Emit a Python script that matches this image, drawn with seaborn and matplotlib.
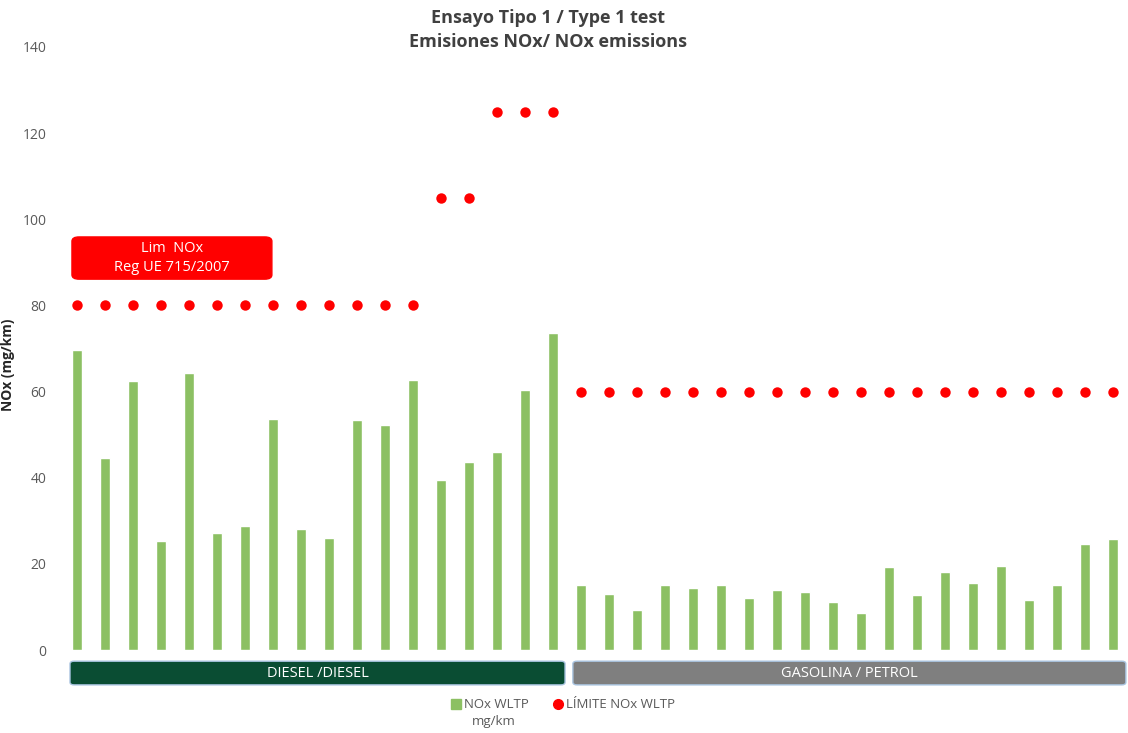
import numpy as np
import pandas as pd
import matplotlib.pyplot as plt
from matplotlib.patches import FancyBboxPatch
from matplotlib.lines import Line2D
import seaborn as sns

# data
diesel_nox = [69.7, 44.5, 62.4, 25.3, 64.2, 27.1, 28.8, 53.6, 28.2, 25.9,
              53.3, 52.2, 62.8, 39.4, 43.7, 45.9, 60.4, 73.5]
diesel_limit = [80] * 13 + [105] * 2 + [125] * 3
petrol_nox = [15.0, 13.1, 9.4, 15.2, 14.3, 15.0, 12.0, 13.9, 13.4, 11.1,
              8.5, 19.3, 12.8, 18.2, 15.5, 19.4, 11.7, 15.2, 24.7, 25.8]
petrol_limit = [60] * 20
fuel_labels = ['DIESEL /DIESEL', 'GASOLINA / PETROL']

vehicles = [f'D{i + 1}' for i in range(len(diesel_nox))] + \
           [f'G{i + 1}' for i in range(len(petrol_nox))]
df = pd.DataFrame({
    'vehiculo': vehicles,
    'nox': diesel_nox + petrol_nox,
    'limite': diesel_limit + petrol_limit,
})

sns.set_style('white')
plt.rcParams['font.family'] = ['Open Sans', 'DejaVu Sans']

fig = plt.figure(figsize=(11.28, 7.33), dpi=100)
ax = fig.add_axes([63 / 1128, 83 / 733, 1065 / 1128, 603 / 733])

sns.barplot(data=df, x='vehiculo', y='nox', order=vehicles, color='#8cc063',
            width=0.36, saturation=1, ax=ax)
sns.stripplot(data=df, x='vehiculo', y='limite', order=vehicles, color='#ff0000',
              jitter=False, size=7.5, linewidth=0, ax=ax)

ax.set_ylim(0, 140)
ax.set_xlim(-0.5, len(vehicles) - 1 + 15 / 28)
ax.set_yticks(range(0, 141, 20))
ax.tick_params(axis='y', labelsize=10, labelcolor='#595959', length=0, pad=12)
ax.set_xticks([])
ax.set_xlabel('')
ax.set_ylabel('NOx (mg/km)', fontsize=10, fontweight='bold', color='#262626')
ax.yaxis.set_label_coords(-0.045, 0.473)
sns.despine(ax=ax, left=True, bottom=True)

# fuel type bands under the bars
nd = len(diesel_nox)
bands = [(-0.25, nd - 0.57, '#0a4d33', fuel_labels[0]),
         (nd - 0.29, len(vehicles) - 0.54, '#7f7f7f', fuel_labels[1])]
for x0, x1, col, lab in bands:
    box = FancyBboxPatch((x0, -8.1), x1 - x0, 5.5, boxstyle='round,pad=0,rounding_size=0.15',
                         facecolor=col, edgecolor='#a9c4e0', linewidth=1,
                         clip_on=False, mutation_aspect=4)
    ax.add_patch(box)
    ax.text((x0 + x1) / 2, -5.35, lab, ha='center', va='center', color='white',
            fontsize=10.5, clip_on=False)

# regulation label box
reg = FancyBboxPatch((-0.18, 86.1), 7.14, 9.8, boxstyle='round,pad=0,rounding_size=0.25',
                     facecolor='#ff0000', edgecolor='#ff0000', clip_on=False,
                     mutation_aspect=4)
ax.add_patch(reg)
ax.text(3.39, 91.0, 'Lim  NOx\nReg UE 715/2007', ha='center', va='center',
        color='white', fontsize=10.5, linespacing=1.3)

fig.text(548 / 1128, 1 - 30 / 733, 'Ensayo Tipo 1 / Type 1 test\nEmisiones NOx/ NOx emissions',
         ha='center', va='center', fontsize=13, fontweight='bold', color='#404040',
         linespacing=1.45)

# legend, with the unit on a second line under the first entry
handles = [Line2D([], [], marker='s', linestyle='', color='#8cc063', markersize=7),
           Line2D([], [], marker='o', linestyle='', color='#ff0000', markersize=7)]
fig.legend(handles, ['NOx WLTP', 'LÍMITE NOx WLTP'], loc='center',
           bbox_to_anchor=(563 / 1128, 1 - 705 / 733), ncol=2, frameon=False,
           fontsize=9.5, labelcolor='#595959', handletextpad=0.2, columnspacing=1.8,
           handlelength=0.8, borderpad=0)
fig.text(472 / 1128, 1 - 722 / 733, 'mg/km', ha='left', va='center',
         fontsize=9.5, color='#595959')

plt.savefig('out.png', dpi=100)
